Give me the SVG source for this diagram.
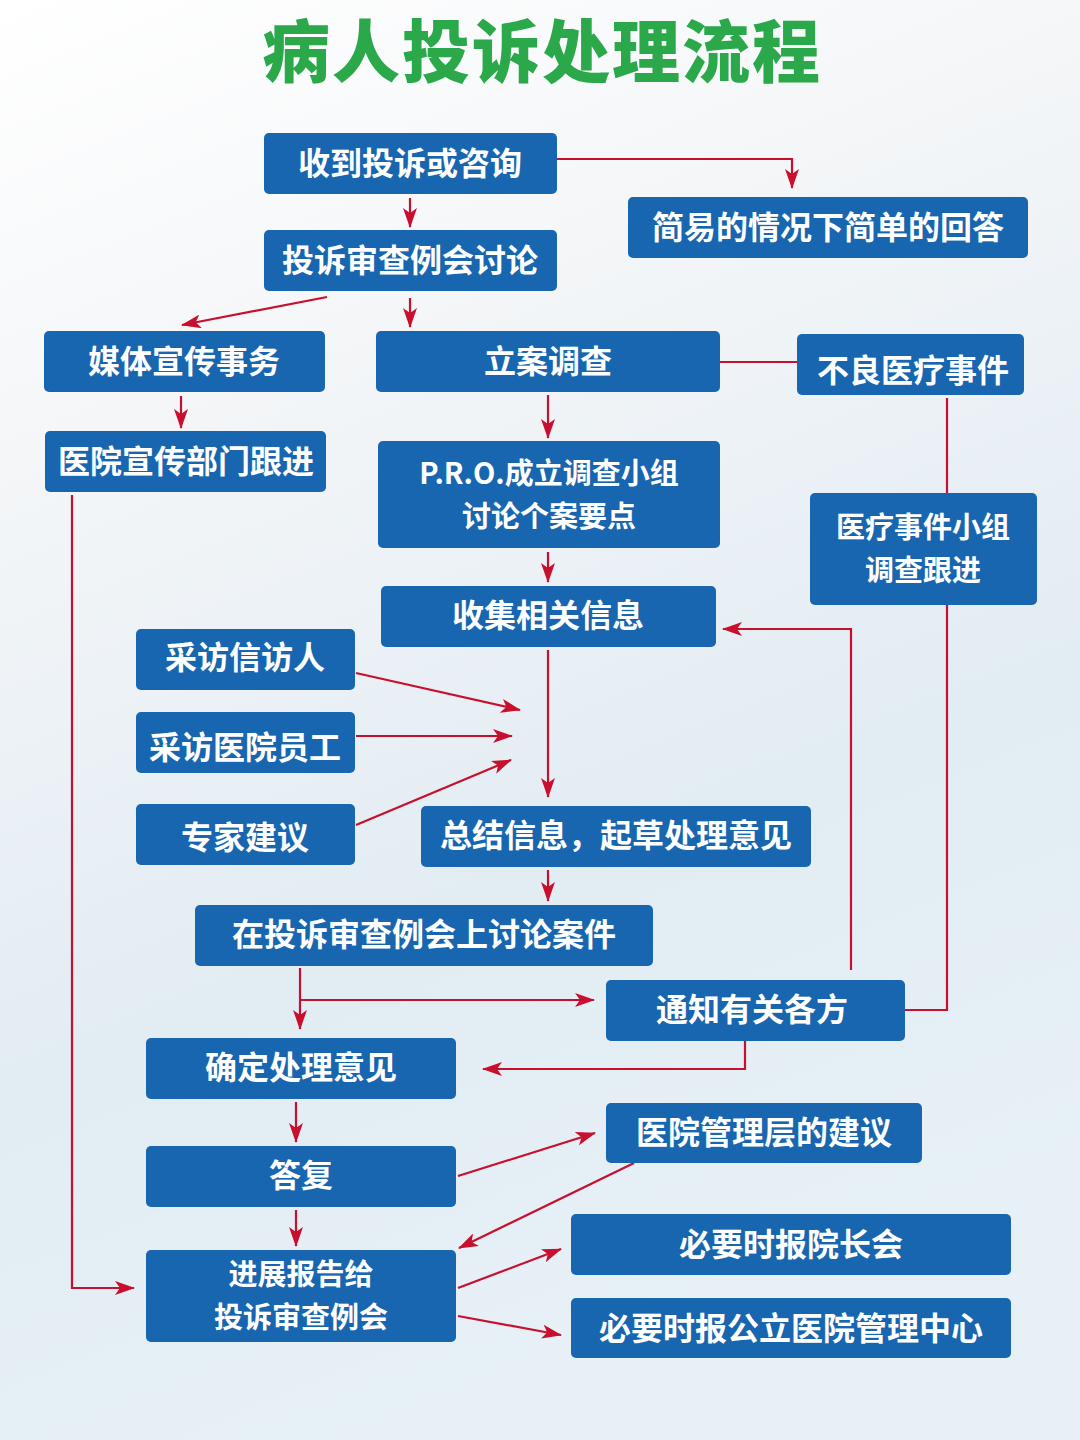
<svg xmlns="http://www.w3.org/2000/svg" width="1080" height="1440" viewBox="0 0 1080 1440">
<defs>
<linearGradient id="bg" x1="0" y1="0" x2="0.3" y2="1">
<stop offset="0" stop-color="#ffffff"/>
<stop offset="0.3" stop-color="#f4f6f8"/>
<stop offset="0.7" stop-color="#e2ecf3"/>
<stop offset="1" stop-color="#e6f0f6"/>
</linearGradient>
<marker id="ah" viewBox="0 0 20 14" refX="19" refY="7" markerWidth="20" markerHeight="14" markerUnits="userSpaceOnUse" orient="auto">
<path d="M0,0 L20,7 L0,14 L5,7 Z" fill="#c8102e"/>
</marker>
<style>
.box{fill:#1866b0;}
.t{font-family:"Noto Sans CJK SC","Noto Sans",sans-serif;font-weight:700;font-size:32px;fill:#ffffff;text-anchor:middle;}
.t2{font-size:29px;}
.c{fill:none;stroke:#c8102e;stroke-width:2.2;}
.a{marker-end:url(#ah);}
</style>
</defs>
<rect width="1080" height="1440" fill="url(#bg)"/>
<text x="542" y="77" font-family="'Noto Sans CJK SC',sans-serif" font-weight="900" font-size="68" fill="#2aa84a" text-anchor="middle" letter-spacing="2">病人投诉处理流程</text>

<g id="connectors">
<polyline class="c a" points="557,159 792,159 792,188"/>
<line class="c a" x1="410" y1="198" x2="410" y2="227"/>
<line class="c a" x1="327" y1="297" x2="182" y2="325"/>
<line class="c a" x1="410" y1="298" x2="410" y2="327"/>
<line class="c" x1="720" y1="362" x2="797" y2="362"/>
<line class="c" x1="947" y1="398" x2="947" y2="493"/>
<polyline class="c" points="947,605 947,1010 905,1010"/>
<line class="c a" x1="181" y1="396" x2="181" y2="428"/>
<polyline class="c a" points="72,495 72,1288 134,1288"/>
<line class="c a" x1="548" y1="395" x2="548" y2="438"/>
<line class="c a" x1="548" y1="552" x2="548" y2="582"/>
<line class="c a" x1="548" y1="650" x2="548" y2="797"/>
<line class="c a" x1="356" y1="673" x2="520" y2="710"/>
<line class="c a" x1="356" y1="736" x2="512" y2="736"/>
<line class="c a" x1="356" y1="825" x2="511" y2="760"/>
<line class="c a" x1="548" y1="870" x2="548" y2="901"/>
<line class="c a" x1="300" y1="968" x2="300" y2="1029"/>
<line class="c a" x1="300" y1="1000" x2="594" y2="1000"/>
<polyline class="c a" points="851,970 851,629 723,629"/>
<polyline class="c a" points="745,1041 745,1069 483,1069"/>
<line class="c a" x1="296" y1="1102" x2="296" y2="1142"/>
<line class="c a" x1="458" y1="1176" x2="595" y2="1133"/>
<line class="c a" x1="634" y1="1163" x2="459" y2="1248"/>
<line class="c a" x1="296" y1="1210" x2="296" y2="1246"/>
<line class="c a" x1="458" y1="1288" x2="561" y2="1249"/>
<line class="c a" x1="458" y1="1316" x2="561" y2="1335"/>
</g>

<g id="n1"><rect class="box" x="264" y="133" width="293" height="61" rx="5"/><text class="t" x="410" y="175">收到投诉或咨询</text></g>
<g id="n2"><rect class="box" x="628" y="197" width="400" height="61" rx="5"/><text class="t" x="828" y="239">简易的情况下简单的回答</text></g>
<g id="n3"><rect class="box" x="264" y="230" width="293" height="61" rx="5"/><text class="t" x="410" y="272">投诉审查例会讨论</text></g>
<g id="n4"><rect class="box" x="44" y="331" width="281" height="61" rx="5"/><text class="t" x="184" y="373">媒体宣传事务</text></g>
<g id="n5"><rect class="box" x="376" y="331" width="344" height="61" rx="5"/><text class="t" x="548" y="373">立案调查</text></g>
<g id="n6"><rect class="box" x="797" y="334" width="227" height="61" rx="5"/><text class="t" x="913" y="382">不良医疗事件</text></g>
<g id="n7"><rect class="box" x="45" y="431" width="281" height="61" rx="5"/><text class="t" x="186" y="473">医院宣传部门跟进</text></g>
<g id="n8"><rect class="box" x="378" y="441" width="342" height="107" rx="5"/><text class="t t2" x="549" y="484" font-size="31">P.R.O.成立调查小组</text><text class="t t2" x="549" y="527">讨论个案要点</text></g>
<g id="n9"><rect class="box" x="810" y="493" width="227" height="112" rx="5"/><text class="t t2" x="923" y="538">医疗事件小组</text><text class="t t2" x="923" y="581">调查跟进</text></g>
<g id="n10"><rect class="box" x="381" y="586" width="335" height="61" rx="5"/><text class="t" x="548" y="627">收集相关信息</text></g>
<g id="n11"><rect class="box" x="136" y="629" width="219" height="61" rx="5"/><text class="t" x="245" y="669">采访信访人</text></g>
<g id="n12"><rect class="box" x="136" y="712" width="219" height="61" rx="5"/><text class="t" x="245" y="759">采访医院员工</text></g>
<g id="n13"><rect class="box" x="136" y="804" width="219" height="61" rx="5"/><text class="t" x="245" y="849">专家建议</text></g>
<g id="n14"><rect class="box" x="421" y="806" width="390" height="61" rx="5"/><text class="t" x="616" y="847">总结信息，起草处理意见</text></g>
<g id="n15"><rect class="box" x="195" y="905" width="458" height="61" rx="5"/><text class="t" x="424" y="946">在投诉审查例会上讨论案件</text></g>
<g id="n16"><rect class="box" x="606" y="980" width="299" height="61" rx="5"/><text class="t" x="752" y="1021">通知有关各方</text></g>
<g id="n17"><rect class="box" x="146" y="1038" width="310" height="61" rx="5"/><text class="t" x="301" y="1079">确定处理意见</text></g>
<g id="n18"><rect class="box" x="606" y="1103" width="316" height="60" rx="5"/><text class="t" x="764" y="1144">医院管理层的建议</text></g>
<g id="n19"><rect class="box" x="146" y="1146" width="310" height="61" rx="5"/><text class="t" x="301" y="1187">答复</text></g>
<g id="n20"><rect class="box" x="571" y="1214" width="440" height="61" rx="5"/><text class="t" x="791" y="1256">必要时报院长会</text></g>
<g id="n21"><rect class="box" x="146" y="1250" width="310" height="92" rx="5"/><text class="t t2" x="301" y="1285">进展报告给</text><text class="t t2" x="301" y="1328">投诉审查例会</text></g>
<g id="n22"><rect class="box" x="571" y="1298" width="440" height="60" rx="5"/><text class="t" x="791" y="1340">必要时报公立医院管理中心</text></g>
</svg>
